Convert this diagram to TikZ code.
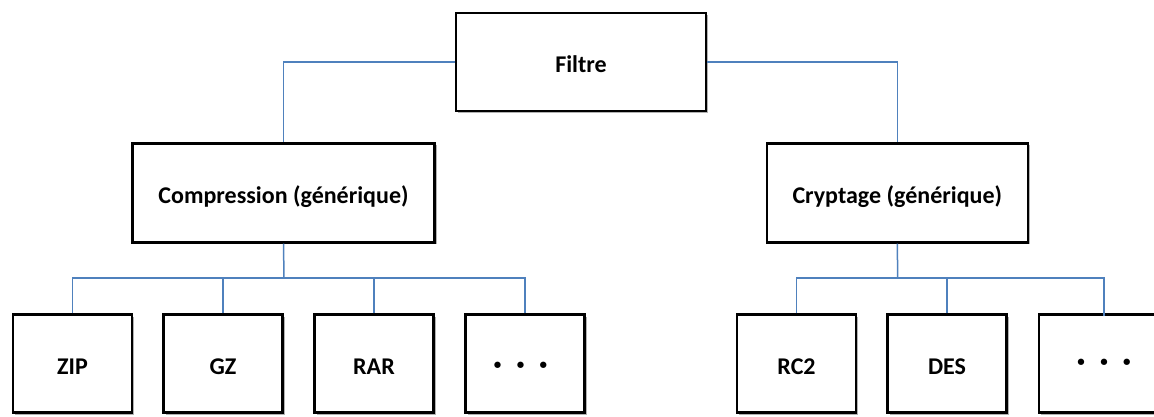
\documentclass[tikz,border=0pt]{standalone}
\usepackage{fontspec}
\setmainfont{Carlito}
\usetikzlibrary{shadows}
\definecolor{linkblue}{HTML}{4F81BD}
\tikzset{
  box/.style={draw=black, line width=2.6pt, fill=white, inner sep=0pt,
    text height=21pt, text depth=0pt,
    font=\fontsize{24}{27}\selectfont\bfseries,
    drop shadow={shadow xshift=2pt, shadow yshift=-2pt, fill=black, opacity=0.3}},
  topbox/.style={box, minimum width=250pt, minimum height=98pt},
  midbox/.style={box, minimum height=99pt},
  leafbox/.style={box, minimum width=119pt, minimum height=98pt},
  dotstext/.style={font=\fontsize{15}{18}\selectfont\bfseries, inner sep=0pt},
  link/.style={draw=linkblue, line width=1.5pt}
}
\newcommand{\threedots}{\textbullet\hspace{15.5pt}\textbullet\hspace{15.5pt}\textbullet}
\begin{document}
\begin{tikzpicture}[x=1pt,y=-1pt]
\useasboundingbox (0,0) rectangle (1154,417);
% nodes
\node[topbox] (F) at (581,62) {Filtre};
\node[midbox, minimum width=302pt] (C) at (283.5,192.75) {Compression (générique)};
\node[midbox, minimum width=261pt] (K) at (897.3,192.75) {Cryptage (générique)};
\node[leafbox] (Z) at (72.5,363.7) {ZIP};
\node[leafbox] (G) at (223,363.7) {GZ};
\node[leafbox] (R) at (374,363.7) {RAR};
\node[leafbox] (D1) at (525,363.7) {};
\node[dotstext] (D1t) at (520.5,366) {\threedots};
\node[leafbox] (RC) at (796.5,363.7) {RC2};
\node[leafbox] (DE) at (947,363.7) {DES};
\node[leafbox] (D2) at (1098.5,363.7) {};
\node[dotstext] (D2t) at (1104,362.5) {\threedots};
% bus points
\coordinate (cb) at (284,278);
\coordinate (kb) at (897.7,278);
% connectors
\draw[link] (F.west) -| (C.north);
\draw[link] (F.east) -| (K.north);
\draw[link] (C.south) -- (cb);
\draw[link] (Z.north) |- (cb);
\draw[link] (G.north) |- (cb);
\draw[link] (R.north) |- (cb);
\draw[link] (D1.north) |- (cb);
\draw[link] (K.south) -- (kb);
\draw[link] (RC.north) |- (kb);
\draw[link] (DE.north) |- (kb);
\draw[link] ([xshift=5.5pt,yshift=-3pt]D2.north) |- (kb);
\end{tikzpicture}
\end{document}
